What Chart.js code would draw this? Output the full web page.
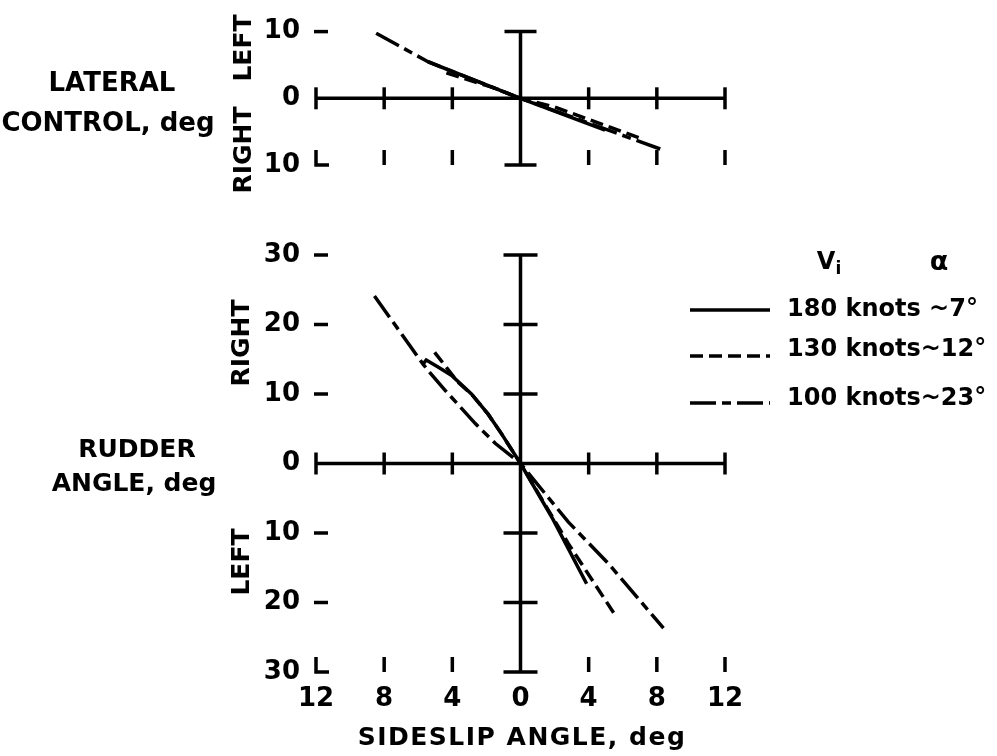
<!DOCTYPE html>
<html>
<head>
<meta charset="utf-8">
<script src="https://cdn.jsdelivr.net/npm/chart.js@4.4.1/dist/chart.umd.min.js"></script>
<style>
  body { margin: 0; background: #fff; width: 997px; height: 756px; overflow: hidden; position: relative;
         font-family: "DejaVu Sans", sans-serif; color: #000; }
  canvas { position: absolute; left: 0; }
  .t { position: absolute; white-space: nowrap; font-size: 25px; font-weight: bold; line-height: 1; }
  .c { transform: translate(-50%, -50%); }
  .v { transform: translate(-50%, -50%) rotate(-90deg); }
  .l { transform: translate(0, -50%); font-size: 24px; }
</style>
</head>
<body>
<canvas id="top-chart" width="997" height="200" style="top:0"></canvas>
<canvas id="bottom-chart" width="997" height="556" style="top:200px"></canvas>

<div class="t c" style="left:112px;top:82px;font-size:26px">LATERAL</div>
<div class="t c" style="left:108px;top:122px;font-size:26px">CONTROL, deg</div>
<div class="t v" style="left:242px;top:48px">LEFT</div>
<div class="t v" style="left:242px;top:150px">RIGHT</div>

<div class="t c" style="left:137px;top:448px">RUDDER</div>
<div class="t c" style="left:134px;top:482px">ANGLE, deg</div>
<div class="t v" style="left:240px;top:343px">RIGHT</div>
<div class="t v" style="left:240px;top:562px">LEFT</div>

<div class="t c" style="left:522px;top:736px;letter-spacing:1.5px">SIDESLIP ANGLE, deg</div>

<div class="t c" style="left:829px;top:263px;font-size:24px">V<sub style="font-size:17px">i</sub></div>
<div class="t c" style="left:939px;top:260px;font-size:27px">α</div>
<div class="t l" style="left:787px;top:308px">180 knots ~7°</div>
<div class="t l" style="left:787px;top:348px">130 knots~12°</div>
<div class="t l" style="left:787px;top:397px">100 knots~23°</div>

<script>
// Valores (ángulo de derrape en x)
const xTicks = [-12, -8, -4, 0, 4, 8, 12];
const topYTicks = [-10, 0, 10];
const bottomYTicks = [-30, -20, -10, 0, 10, 20, 30];

// Panel superior: control lateral
const topX180 = [-5.43, 0, 4.96];
const topY180 = [5.48, 0, -4.76];
const topX130 = [-4.35, -1.7, 0, 2.0, 7.0];
const topY130 = [3.8, 1.67, 0, -1.3, -5.95];
const topX100 = [-8.47, -5.43, 0, 8.2];
const topY100 = [9.76, 5.48, 0, -7.6];

// Panel inferior: ángulo de timón
const botX180 = [-5.72, -5.53, -4.84, -4.06, -2.88, -1.9, -1.12, 0, 1.9, 3.88];
const botY180 = [14.3, 14.9, 13.9, 12.7, 10.0, 7.1, 4.3, 0, -8.0, -17.3];
const botX130 = [-5.04, -3.67, -2.88, -1.9, -1.12, 0, 2.8, 5.55];
const botY130 = [16.0, 11.7, 10.0, 7.1, 4.3, 0, -11.5, -21.8];
const botX100 = [-8.57, -5.72, -5.33, -4.41, -2.65, -1.47, 0, 2.8, 5.16, 8.39];
const botY100 = [24.1, 14.3, 13.1, 10.5, 5.74, 2.87, 0, -8.4, -14.4, -23.7];

const seriesNames = ["180 knots ~7°", "130 knots~12°", "100 knots~23°"];
const dashes = [[], [13, 6], [26, 6, 9, 6]];

const tickFont = { family: "DejaVu Sans", size: 26, weight: "bold" };

function points(xs, ys) {
    return xs.map((x, i) => ({ x: x, y: ys[i] }));
}

function makeDatasets(sets) {
    return sets.map((s, i) => ({
        label: seriesNames[i],
        data: points(s[0], s[1]),
        showLine: true,
        borderColor: "#000",
        borderWidth: 3.5,
        borderDash: dashes[i],
        pointRadius: 0,
        tension: 0,
        fill: false
    }));
}

// Dibuja los ejes en cruz con marcas, usando las escalas del gráfico
const crossAxes = {
    id: "crossAxes",
    beforeDatasetsDraw(chart, args, opts) {
        const { ctx, scales: { x, y } } = chart;
        const yt = opts.yTicks;
        const yMin = yt[0], yMax = yt[yt.length - 1];
        const px = v => x.getPixelForValue(v);
        const py = v => y.getPixelForValue(v);
        const x0 = px(xTicks[0]);
        ctx.save();
        ctx.strokeStyle = "#000";
        ctx.lineWidth = 3.5;
        const seg = (a, b, c, d) => { ctx.beginPath(); ctx.moveTo(a, b); ctx.lineTo(c, d); ctx.stroke(); };

        // eje horizontal en cero
        seg(x0 - 1, py(0), px(xTicks[xTicks.length - 1]) + 1, py(0));
        xTicks.forEach(v => { if (v !== 0) seg(px(v), py(0) - 11, px(v), py(0) + 11); });

        // eje vertical en cero
        seg(px(0), py(yMax), px(0), py(yMin));
        seg(px(0) - opts.cap, py(yMax), px(0) + opts.cap, py(yMax));
        seg(px(0) - opts.cap, py(yMin), px(0) + opts.cap, py(yMin));
        yt.forEach(v => {
            if (v !== 0 && v !== yMin && v !== yMax) seg(px(0) - opts.cap, py(v), px(0) + opts.cap, py(v));
        });

        // guiones a la izquierda
        yt.forEach(v => { if (v !== 0 && v !== yMin) seg(x0 - 2, py(v), x0 + 12, py(v)); });

        // esquina inferior y marcas de abajo
        ctx.beginPath();
        ctx.moveTo(x0, py(yMin) - 15);
        ctx.lineTo(x0, py(yMin));
        ctx.lineTo(x0 + 13, py(yMin));
        ctx.stroke();
        xTicks.forEach(v => { if (v !== 0 && v !== xTicks[0]) seg(px(v), py(yMin) - 15, px(v), py(yMin)); });
        ctx.restore();
    }
};

// Líneas de la leyenda con el mismo estilo que cada serie
const keyLines = {
    id: "keyLines",
    afterDraw(chart, args, opts) {
        if (!opts.rows) return;
        const ctx = chart.ctx;
        chart.data.datasets.forEach((ds, i) => {
            ctx.save();
            ctx.strokeStyle = "#000";
            ctx.lineWidth = 3.5;
            ctx.setLineDash(ds.borderDash || []);
            ctx.beginPath();
            ctx.moveTo(opts.x0, opts.rows[i]);
            ctx.lineTo(opts.x1, opts.rows[i]);
            ctx.stroke();
            ctx.restore();
        });
    }
};

function yAxis(ticks) {
    return {
        type: "linear",
        position: "left",
        min: ticks[0],
        max: ticks[ticks.length - 1],
        afterBuildTicks: axis => { axis.ticks = ticks.map(v => ({ value: v })); },
        afterFit: axis => { axis.width = 100; },
        grid: { display: false, drawTicks: false },
        border: { display: false },
        ticks: {
            color: "#000",
            font: tickFont,
            padding: 16,
            callback: v => Math.abs(v)
        }
    };
}

const topChart = new Chart(document.getElementById("top-chart"), {
    type: "scatter",
    data: {
        datasets: makeDatasets([[topX180, topY180], [topX130, topY130], [topX100, topY100]])
    },
    options: {
        responsive: false,
        animation: false,
        layout: { padding: { left: 216, right: 272, top: 25, bottom: 35 } },
        plugins: {
            legend: { display: false },
            tooltip: { enabled: false },
            crossAxes: { yTicks: topYTicks, cap: 16 },
            keyLines: {}
        },
        scales: {
            x: { type: "linear", min: xTicks[0], max: xTicks[xTicks.length - 1], display: false },
            y: yAxis(topYTicks)
        }
    },
    plugins: [crossAxes, keyLines]
});

const bottomChart = new Chart(document.getElementById("bottom-chart"), {
    type: "scatter",
    data: {
        datasets: makeDatasets([[botX180, botY180], [botX130, botY130], [botX100, botY100]])
    },
    options: {
        responsive: false,
        animation: false,
        layout: { padding: { left: 216, right: 272, top: 55, bottom: 34 } },
        plugins: {
            legend: { display: false },
            tooltip: { enabled: false },
            crossAxes: { yTicks: bottomYTicks, cap: 17 },
            keyLines: { x0: 690, x1: 770, rows: [110, 156, 203] }
        },
        scales: {
            x: {
                type: "linear",
                position: "bottom",
                min: xTicks[0],
                max: xTicks[xTicks.length - 1],
                afterBuildTicks: axis => { axis.ticks = xTicks.map(v => ({ value: v })); },
                afterFit: axis => { axis.height = 50; },
                grid: { display: false, drawTicks: false },
                border: { display: false },
                ticks: {
                    color: "#000",
                    font: tickFont,
                    padding: 12,
                    maxRotation: 0,
                    callback: v => Math.abs(v)
                }
            },
            y: yAxis(bottomYTicks)
        }
    },
    plugins: [crossAxes, keyLines]
});
</script>
</body>
</html>
